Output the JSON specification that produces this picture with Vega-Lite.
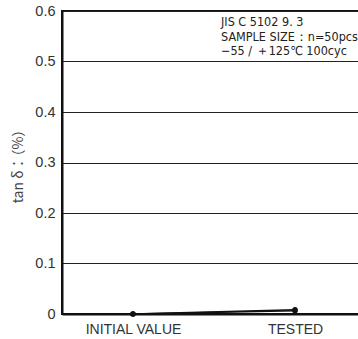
{
  "$schema": "https://vega.github.io/schema/vega-lite/v6.json",
  "autosize": {"type": "none"},
  "padding": {"left": 62, "top": 11, "right": 0, "bottom": 25},
  "width": 304,
  "height": 303,
  "background": "white",
  "config": {
    "view": {"stroke": "#111", "strokeWidth": 2},
    "font": "Liberation Sans"
  },
  "datasets": {
    "series": [
      {"stage": "INITIAL VALUE", "tan": 0.0, "s": "max"},
      {"stage": "TESTED", "tan": 0.0085, "s": "max"},
      {"stage": "INITIAL VALUE", "tan": 0.0, "s": "avg"},
      {"stage": "TESTED", "tan": 0.0065, "s": "avg"}
    ],
    "notes": [
      {"stage": "TESTED", "tan": 0.571, "label": "JIS C 5102 9. 3"},
      {"stage": "TESTED", "tan": 0.541, "label": "SAMPLE SIZE：n=50pcs"},
      {"stage": "TESTED", "tan": 0.513, "label": "−55 / ＋125℃ 100cyc"}
    ]
  },
  "layer": [
    {
      "data": {"name": "series"},
      "mark": {"type": "line", "color": "#111", "strokeWidth": 1.4, "point": {"filled": true, "color": "#111", "size": 30}},
      "encoding": {
        "x": {
          "field": "stage", "type": "nominal",
          "sort": ["INITIAL VALUE", "TESTED"],
          "scale": {"type": "point", "padding": 0.438},
          "axis": {
            "title": null, "labelAngle": 0, "ticks": false, "labelPadding": 8,
            "labelFontSize": 14, "labelColor": "#333", "labelFont": "Liberation Sans",
            "domainColor": "#111", "domainWidth": 2, "grid": false
          }
        },
        "y": {
          "field": "tan", "type": "quantitative",
          "scale": {"domain": [0, 0.6], "nice": false},
          "axis": {
            "title": "tan δ：（%）", "values": [0, 0.1, 0.2, 0.3, 0.4, 0.5, 0.6],
            "format": "~g", "ticks": false, "labelPadding": 7,
            "labelFontSize": 14.5, "labelColor": "#333", "labelFont": "Liberation Sans",
            "domainColor": "#111", "domainWidth": 2,
            "grid": true, "gridColor": "#222", "gridWidth": 1,
            "titleFont": "Noto Sans CJK JP", "titleFontSize": 14,
            "titleFontWeight": "normal", "titleColor": "#444", "titlePadding": 9
          }
        },
        "detail": {"field": "s"}
      }
    },
    {
      "data": {"name": "notes"},
      "mark": {"type": "text", "align": "left", "baseline": "alphabetic", "dx": -74, "fontSize": 12.5, "color": "#222", "font": "Liberation Sans Narrow, DejaVu Sans Condensed, Liberation Sans"},
      "encoding": {
        "x": {"field": "stage", "type": "nominal"},
        "y": {"field": "tan", "type": "quantitative"},
        "text": {"field": "label"}
      }
    }
  ]
}
